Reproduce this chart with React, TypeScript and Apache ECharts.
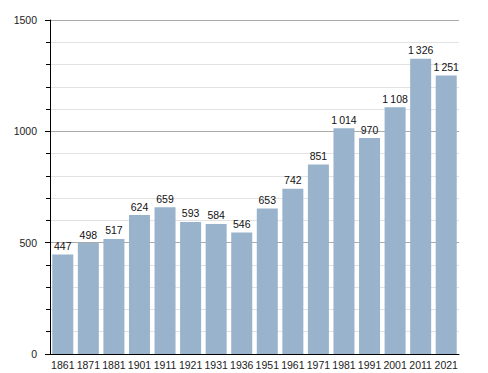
import React, { useEffect, useRef } from "react";
import * as echarts from "echarts";

const years = ["1861","1871","1881","1901","1911","1921","1931","1936","1951","1961","1971","1981","1991","2001","2011","2021"];
const population = [447,498,517,624,659,593,584,546,653,742,851,1014,970,1108,1326,1251];

function fmt(v: number): string {
  const s = String(v);
  return s.length > 3 ? s.slice(0, s.length - 3) + "\u2009" + s.slice(-3) : s;
}

const FONT = "'Liberation Sans', Arial, sans-serif";

export default function App() {
  const ref = useRef<HTMLDivElement>(null);
  useEffect(() => {
    const chart = echarts.init(ref.current!, undefined, { renderer: "svg" });
    chart.setOption({
      animation: false,
      backgroundColor: "#ffffff",
      textStyle: { fontFamily: FONT },
      grid: { left: 50, right: 29, top: 20, bottom: 19, containLabel: false },
      xAxis: {
        type: "category",
        data: years,
        axisLine: { show: true, lineStyle: { color: "#000", width: 1 } },
        axisTick: { show: false },
        axisLabel: { color: "#222", fontSize: 10.5, fontFamily: FONT, margin: 5, interval: 0, overflow: "none", hideOverlap: false },
      },
      yAxis: {
        type: "value",
        min: 0,
        max: 1500,
        interval: 500,
        axisLine: { show: true, lineStyle: { color: "#000", width: 1 } },
        axisTick: { show: true, length: 5, lineStyle: { color: "#000" } },
        minorTick: { show: true, splitNumber: 5, length: 4, lineStyle: { color: "#000" } },
        axisLabel: { color: "#222", fontSize: 10.5, fontFamily: FONT, margin: 13, formatter: (v: number) => String(v) },
        splitLine: { show: true, lineStyle: { color: "#aaaaaa", width: 1 } },
        minorSplitLine: { show: true, lineStyle: { color: "#e2e2e2", width: 1 } },
      },
      series: [
        {
          type: "bar",
          data: population,
          barWidth: 21,
          itemStyle: { color: "#99b3cc" },
          label: {
            show: true,
            position: "top",
            distance: 3,
            color: "#111",
            fontSize: 10.5,
            fontFamily: FONT,
            formatter: (p: any) => fmt(p.value),
          },
        },
      ],
    });
    return () => chart.dispose();
  }, []);
  return <div ref={ref} style={{ width: 488, height: 373, position: "absolute", left: 0, top: 0 }} />;
}
